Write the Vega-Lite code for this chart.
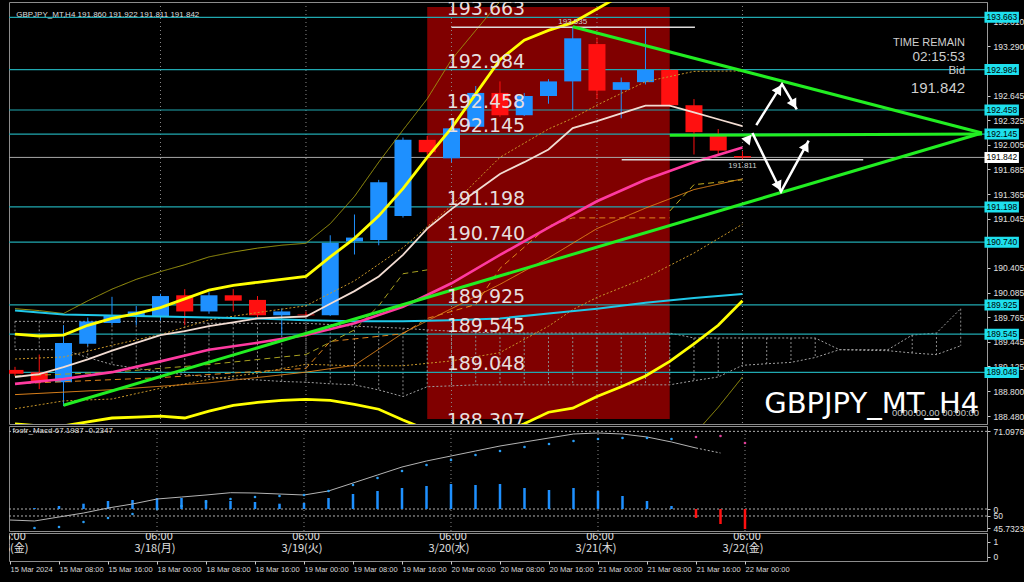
{
"$schema": "https://vega.github.io/schema/vega-lite/v6.json",
"background": "black",
"padding": {"left": 7, "top": 1, "right": 0, "bottom": 14},
"spacing": 2,
"bounds": "flush",
"config": {"view": {"stroke": "#8c8c8c", "strokeWidth": 1}, "font": "DejaVu Sans", "axis": {"labelFont": "Liberation Sans"}},
"datasets": {
"candles": [
{"i":0,"o":189.08,"h":189.12,"l":189.00,"c":189.03},
{"i":1,"o":189.05,"h":189.28,"l":188.83,"c":188.92},
{"i":2,"o":188.92,"h":189.66,"l":188.61,"c":189.43},
{"i":3,"o":189.42,"h":189.76,"l":189.39,"c":189.71},
{"i":4,"o":189.69,"h":190.03,"l":189.66,"c":189.79},
{"i":5,"o":189.78,"h":189.91,"l":189.66,"c":189.84},
{"i":6,"o":189.78,"h":190.07,"l":189.72,"c":190.04},
{"i":7,"o":190.05,"h":190.13,"l":189.66,"c":189.84},
{"i":8,"o":189.84,"h":190.09,"l":189.81,"c":190.05},
{"i":9,"o":190.05,"h":190.13,"l":189.84,"c":189.98},
{"i":10,"o":189.99,"h":190.04,"l":189.76,"c":189.79},
{"i":11,"o":189.79,"h":189.88,"l":189.53,"c":189.84},
{"i":12,"o":189.80,"h":189.84,"l":189.77,"c":189.79},
{"i":13,"o":189.79,"h":190.83,"l":189.78,"c":190.73},
{"i":14,"o":190.75,"h":191.10,"l":190.58,"c":190.80},
{"i":15,"o":190.77,"h":191.55,"l":190.70,"c":191.52},
{"i":16,"o":191.08,"h":192.10,"l":191.06,"c":192.07},
{"i":17,"o":192.07,"h":192.12,"l":191.88,"c":191.91},
{"i":18,"o":191.83,"h":192.35,"l":191.78,"c":192.22},
{"i":19,"o":192.24,"h":192.77,"l":192.22,"c":192.68},
{"i":20,"o":192.68,"h":192.83,"l":192.37,"c":192.39},
{"i":21,"o":192.39,"h":192.68,"l":192.38,"c":192.64},
{"i":22,"o":192.64,"h":192.86,"l":192.54,"c":192.83},
{"i":23,"o":192.83,"h":193.535,"l":192.45,"c":193.39},
{"i":24,"o":193.315,"h":193.40,"l":192.60,"c":192.71},
{"i":25,"o":192.72,"h":192.88,"l":192.35,"c":192.82},
{"i":26,"o":192.82,"h":193.52,"l":192.79,"c":192.98},
{"i":27,"o":192.98,"h":192.99,"l":192.50,"c":192.52},
{"i":28,"o":192.52,"h":192.60,"l":191.88,"c":192.17},
{"i":29,"o":192.12,"h":192.21,"l":191.88,"c":191.93},
{"i":30,"o":191.860,"h":191.922,"l":191.811,"c":191.842}
],
"grid": [{"i":6},{"i":12},{"i":18},{"i":24},{"i":30}],
"levels": [{"v":193.663},{"v":192.984},{"v":192.458},{"v":192.145},{"v":191.198},{"v":190.740},{"v":189.925},{"v":189.545},{"v":189.048},{"v":188.307}],
"cloud": [
{"i":0,"a":189.711,"b":189.343},{"i":1,"a":189.711,"b":189.343},{"i":2,"a":189.711,"b":189.343},{"i":3,"a":189.711,"b":189.241},
{"i":4,"a":189.711,"b":189.15},{"i":5,"a":189.711,"b":189.10},{"i":6,"a":189.711,"b":189.051},{"i":7,"a":189.70,"b":189.02},
{"i":8,"a":189.686,"b":188.99},{"i":9,"a":189.686,"b":188.962},{"i":10,"a":189.686,"b":188.95},{"i":11,"a":189.686,"b":188.93},
{"i":12,"a":189.686,"b":188.92},{"i":13,"a":189.67,"b":188.90},{"i":14,"a":189.648,"b":188.886},{"i":15,"a":189.635,"b":188.82},
{"i":16,"a":189.622,"b":188.734},{"i":17,"a":189.60,"b":188.861},{"i":18,"a":189.584,"b":188.873},{"i":19,"a":189.57,"b":188.886},
{"i":20,"a":189.559,"b":188.886},{"i":21,"a":189.559,"b":188.886},{"i":22,"a":189.559,"b":188.886},{"i":23,"a":189.559,"b":188.886},
{"i":24,"a":189.559,"b":188.886},{"i":25,"a":189.559,"b":188.886},{"i":26,"a":189.559,"b":188.886},{"i":27,"a":189.559,"b":188.886},
{"i":28,"a":189.495,"b":188.94},{"i":29,"a":189.495,"b":188.988},{"i":30,"a":189.495,"b":189.140},{"i":31,"a":189.495,"b":189.16},
{"i":32,"a":189.495,"b":189.178},{"i":33,"a":189.495,"b":189.241},{"i":34,"a":189.343,"b":189.343},{"i":35,"a":189.343,"b":189.335},
{"i":36,"a":189.343,"b":189.330},{"i":37,"a":189.533,"b":189.30},{"i":38,"a":189.559,"b":189.279},{"i":39,"a":189.876,"b":189.394}
],
"ind": [
{"s":"u3","i":0,"v":189.876},{"s":"u3","i":1,"v":189.851},{"s":"u3","i":2,"v":189.813},{"s":"u3","i":3,"v":189.978},{"s":"u3","i":4,"v":190.130},{"s":"u3","i":5,"v":190.257},{"s":"u3","i":6,"v":190.358},{"s":"u3","i":7,"v":190.447},{"s":"u3","i":8,"v":190.549},{"s":"u3","i":9,"v":190.612},{"s":"u3","i":10,"v":190.663},{"s":"u3","i":11,"v":190.701},{"s":"u3","i":12,"v":190.726},{"s":"u3","i":13,"v":190.98},{"s":"u3","i":14,"v":191.335},{"s":"u3","i":15,"v":191.78},{"s":"u3","i":16,"v":192.198},{"s":"u3","i":17,"v":192.604},{"s":"u3","i":18,"v":193.112},{"s":"u3","i":19,"v":193.493},{"s":"u3","i":20,"v":193.87},{"s":"u3","i":21,"v":194.1},
{"s":"l3","i":28,"v":188.239},{"s":"l3","i":29,"v":188.594},{"s":"l3","i":30,"v":188.988},
{"s":"u1","i":0,"v":189.222},{"s":"u1","i":2,"v":189.248},{"s":"u1","i":4,"v":189.400},{"s":"u1","i":6,"v":189.540},{"s":"u1","i":8,"v":189.730},{"s":"u1","i":10,"v":189.825},{"s":"u1","i":12,"v":189.914},{"s":"u1","i":14,"v":190.238},{"s":"u1","i":16,"v":190.669},{"s":"u1","i":18,"v":191.215},{"s":"u1","i":20,"v":191.843},{"s":"u1","i":22,"v":192.211},{"s":"u1","i":23,"v":192.351},{"s":"u1","i":24,"v":192.522},{"s":"u1","i":26,"v":192.826},{"s":"u1","i":28,"v":192.960},{"s":"u1","i":30,"v":192.966},
{"s":"l1","i":0,"v":188.575},{"s":"l1","i":2,"v":188.677},{"s":"l1","i":4,"v":188.702},{"s":"l1","i":6,"v":188.842},{"s":"l1","i":8,"v":188.956},{"s":"l1","i":10,"v":189.038},{"s":"l1","i":12,"v":189.153},{"s":"l1","i":14,"v":189.134},{"s":"l1","i":16,"v":189.134},{"s":"l1","i":18,"v":189.197},{"s":"l1","i":20,"v":189.305},{"s":"l1","i":22,"v":189.648},{"s":"l1","i":23,"v":189.863},{"s":"l1","i":24,"v":190.022},{"s":"l1","i":26,"v":190.276},{"s":"l1","i":28,"v":190.599},{"s":"l1","i":30,"v":190.974},
{"s":"os","i":0,"v":188.759},{"s":"os","i":4,"v":188.823},{"s":"os","i":8,"v":188.912},{"s":"os","i":12,"v":189.051},{"s":"os","i":14,"v":189.140},{"s":"os","i":16,"v":189.559},{"s":"os","i":18,"v":189.876},{"s":"os","i":20,"v":190.193},{"s":"os","i":22,"v":190.536},{"s":"os","i":24,"v":190.917},{"s":"os","i":26,"v":191.183},{"s":"os","i":28,"v":191.424},{"s":"os","i":30,"v":191.564},
{"s":"kj","i":0,"v":188.90},{"s":"kj","i":6,"v":188.98},{"s":"kj","i":12,"v":189.10},{"s":"kj","i":13,"v":189.45},{"s":"kj","i":16,"v":189.55},{"s":"kj","i":17,"v":189.75},{"s":"kj","i":19,"v":189.93},{"s":"kj","i":20,"v":190.40},{"s":"kj","i":22,"v":190.95},{"s":"kj","i":23,"v":191.056},{"s":"kj","i":27,"v":191.056},
{"s":"tk","i":0,"v":189.00},{"s":"tk","i":4,"v":189.05},{"s":"tk","i":8,"v":189.15},{"s":"tk","i":12,"v":189.28},{"s":"tk","i":14,"v":189.60},{"s":"tk","i":15,"v":189.914},{"s":"tk","i":16,"v":190.33},{"s":"tk","i":17,"v":190.38},
{"s":"tk2","i":27,"v":191.145},{"s":"tk2","i":28,"v":191.488},{"s":"tk2","i":30,"v":191.551},
{"s":"cy","i":0,"v":189.851},{"s":"cy","i":2,"v":189.800},{"s":"cy","i":4,"v":189.787},{"s":"cy","i":6,"v":189.774},{"s":"cy","i":8,"v":189.762},{"s":"cy","i":10,"v":189.749},{"s":"cy","i":12,"v":189.724},{"s":"cy","i":14,"v":189.711},{"s":"cy","i":16,"v":189.711},{"s":"cy","i":18,"v":189.724},{"s":"cy","i":20,"v":189.749},{"s":"cy","i":22,"v":189.813},{"s":"cy","i":24,"v":189.876},{"s":"cy","i":26,"v":189.952},{"s":"cy","i":28,"v":190.016},{"s":"cy","i":30,"v":190.066},
{"s":"m","i":0,"v":188.899},{"s":"m","i":2,"v":188.962},{"s":"m","i":4,"v":189.051},{"s":"m","i":6,"v":189.191},{"s":"m","i":8,"v":189.343},{"s":"m","i":10,"v":189.432},{"s":"m","i":12,"v":189.533},{"s":"m","i":14,"v":189.686},{"s":"m","i":16,"v":189.901},{"s":"m","i":18,"v":190.206},{"s":"m","i":20,"v":190.574},{"s":"m","i":22,"v":190.929},{"s":"m","i":24,"v":191.272},{"s":"m","i":26,"v":191.551},{"s":"m","i":28,"v":191.780},{"s":"m","i":30,"v":191.970},
{"s":"w","i":0,"v":188.988},{"s":"w","i":1,"v":189.026},{"s":"w","i":2,"v":189.115},{"s":"w","i":3,"v":189.216},{"s":"w","i":4,"v":189.330},{"s":"w","i":5,"v":189.432},{"s":"w","i":6,"v":189.533},{"s":"w","i":7,"v":189.584},{"s":"w","i":8,"v":189.648},{"s":"w","i":9,"v":189.698},{"s":"w","i":10,"v":189.749},{"s":"w","i":11,"v":189.762},{"s":"w","i":12,"v":189.774},{"s":"w","i":13,"v":189.939},{"s":"w","i":14,"v":190.104},{"s":"w","i":15,"v":190.295},{"s":"w","i":16,"v":190.574},{"s":"w","i":17,"v":190.917},{"s":"w","i":18,"v":191.170},{"s":"w","i":19,"v":191.399},{"s":"w","i":20,"v":191.627},{"s":"w","i":21,"v":191.780},{"s":"w","i":22,"v":191.945},{"s":"w","i":23,"v":192.224},{"s":"w","i":24,"v":192.313},{"s":"w","i":25,"v":192.414},{"s":"w","i":26,"v":192.516},{"s":"w","i":27,"v":192.516},{"s":"w","i":28,"v":192.427},{"s":"w","i":29,"v":192.338},{"s":"w","i":30,"v":192.249},
{"s":"u2","i":0,"v":189.546},{"s":"u2","i":1,"v":189.521},{"s":"u2","i":2,"v":189.533},{"s":"u2","i":3,"v":189.660},{"s":"u2","i":4,"v":189.749},{"s":"u2","i":5,"v":189.813},{"s":"u2","i":6,"v":189.889},{"s":"u2","i":7,"v":190.003},{"s":"u2","i":8,"v":190.117},{"s":"u2","i":9,"v":190.180},{"s":"u2","i":10,"v":190.219},{"s":"u2","i":11,"v":190.257},{"s":"u2","i":12,"v":190.295},{"s":"u2","i":13,"v":190.549},{"s":"u2","i":14,"v":190.790},{"s":"u2","i":15,"v":191.082},{"s":"u2","i":16,"v":191.437},{"s":"u2","i":17,"v":191.843},{"s":"u2","i":18,"v":192.224},{"s":"u2","i":19,"v":192.668},{"s":"u2","i":20,"v":193.112},{"s":"u2","i":21,"v":193.366},{"s":"u2","i":22,"v":193.493},{"s":"u2","i":23,"v":193.594},{"s":"u2","i":24,"v":193.772},{"s":"u2","i":25,"v":193.95},{"s":"u2","i":26,"v":194.1},
{"s":"l2","i":0,"v":188.378},{"s":"l2","i":1,"v":188.353},{"s":"l2","i":2,"v":188.353},{"s":"l2","i":3,"v":188.404},{"s":"l2","i":4,"v":188.455},{"s":"l2","i":5,"v":188.467},{"s":"l2","i":6,"v":188.480},{"s":"l2","i":7,"v":188.455},{"s":"l2","i":8,"v":188.543},{"s":"l2","i":9,"v":188.620},{"s":"l2","i":10,"v":188.658},{"s":"l2","i":11,"v":188.683},{"s":"l2","i":12,"v":188.696},{"s":"l2","i":13,"v":188.683},{"s":"l2","i":14,"v":188.632},{"s":"l2","i":15,"v":188.569},{"s":"l2","i":16,"v":188.429},{"s":"l2","i":17,"v":188.30},{"s":"l2","i":18,"v":188.24},{"s":"l2","i":19,"v":188.22},{"s":"l2","i":20,"v":188.25},{"s":"l2","i":21,"v":188.38},{"s":"l2","i":22,"v":188.53},{"s":"l2","i":23,"v":188.582},{"s":"l2","i":24,"v":188.734},{"s":"l2","i":25,"v":188.861},{"s":"l2","i":26,"v":189.000},{"s":"l2","i":27,"v":189.191},{"s":"l2","i":28,"v":189.419},{"s":"l2","i":29,"v":189.660},{"s":"l2","i":30,"v":189.978}
],
"hl": [{"i":23,"v":193.535,"x1":18,"x2":28.04},{"i":30,"v":191.811,"x1":25.02,"x2":34.98}],
"trend": [{"seg":"a","i":2,"v":188.62},{"seg":"a","i":39.878,"v":192.16},{"seg":"b","i":23,"v":193.54},{"seg":"b","i":39.878,"v":192.16},{"seg":"c","i":27,"v":192.13},{"seg":"c","i":39.878,"v":192.145}],
"arrows": [{"a":"A","k":0,"i":30.57,"v":192.262},{"a":"A","k":1,"i":31.63,"v":192.795},{"a":"A","k":2,"i":32.24,"v":192.465},{"a":"B","k":0,"i":30.41,"v":192.16},{"a":"B","k":1,"i":31.59,"v":191.399},{"a":"B","k":2,"i":32.73,"v":192.059}],
"heads": [{"i":31.50,"v":192.730,"dir":32},{"i":32.12,"v":192.531,"dir":150},{"i":31.49,"v":191.467,"dir":154},{"i":32.62,"v":191.991,"dir":28},{"i":30.25,"v":192.089,"dir":40}],
"hist": [{"i":1,"v":51.02},{"i":2,"v":51.55},{"i":3,"v":52.15},{"i":4,"v":52.86},{"i":5,"v":53.12},{"i":6,"v":53.64},{"i":7,"v":53.64},{"i":8,"v":53.12},{"i":9,"v":52.86},{"i":10,"v":52.59},{"i":11,"v":52.15},{"i":12,"v":52.33},{"i":13,"v":53.64},{"i":14,"v":54.69},{"i":15,"v":55.48},{"i":16,"v":56.26},{"i":17,"v":56.79},{"i":18,"v":57.31},{"i":19,"v":57.05},{"i":20,"v":57.31},{"i":21,"v":56.26},{"i":22,"v":55.74},{"i":23,"v":56.26},{"i":24,"v":55.48},{"i":25,"v":54.17},{"i":26,"v":52.86},{"i":27,"v":51.55},{"i":28,"v":48.40},{"i":29,"v":46.83},{"i":30,"v":45.52}],
"sig": [{"i":0,"v":47.88},{"i":1,"v":47.62},{"i":2,"v":48.67},{"i":3,"v":49.71},{"i":4,"v":51.02},{"i":5,"v":52.07},{"i":6,"v":53.38},{"i":7,"v":53.90},{"i":8,"v":54.43},{"i":9,"v":55.03},{"i":10,"v":54.95},{"i":11,"v":54.69},{"i":12,"v":54.43},{"i":13,"v":55.48},{"i":14,"v":57.57},{"i":15,"v":59.67},{"i":16,"v":61.76},{"i":17,"v":63.33},{"i":18,"v":64.64},{"i":19,"v":65.95},{"i":20,"v":67.26},{"i":21,"v":68.31},{"i":22,"v":69.36},{"i":23,"v":70.40},{"i":24,"v":70.67},{"i":25,"v":70.40},{"i":26,"v":69.62},{"i":27,"v":68.31},{"i":28,"v":66.74}],
"sig2": [{"i":28,"v":66.74},{"i":29,"v":65.43}],
"dots": [{"i":1,"v":45.78,"k":"b"},{"i":2,"v":46.05,"k":"b"},{"i":3,"v":47.36,"k":"b"},{"i":4,"v":48.40,"k":"b"},{"i":5,"v":49.45,"k":"b"},{"i":6,"v":50.76,"k":"b"},{"i":7,"v":51.55,"k":"b"},{"i":8,"v":52.59,"k":"b"},{"i":9,"v":53.38,"k":"b"},{"i":10,"v":53.90,"k":"b"},{"i":11,"v":54.17,"k":"b"},{"i":12,"v":54.43,"k":"b"},{"i":13,"v":55.48,"k":"b"},{"i":14,"v":57.05,"k":"b"},{"i":15,"v":58.88,"k":"b"},{"i":16,"v":60.71,"k":"b"},{"i":17,"v":62.29,"k":"b"},{"i":18,"v":63.60,"k":"b"},{"i":19,"v":64.90,"k":"b"},{"i":20,"v":65.95,"k":"b"},{"i":21,"v":67.00,"k":"b"},{"i":22,"v":67.79,"k":"b"},{"i":23,"v":68.57,"k":"b"},{"i":24,"v":69.10,"k":"b"},{"i":25,"v":69.36,"k":"b"},{"i":26,"v":69.36,"k":"b"},{"i":27,"v":69.10,"k":"b"},{"i":28,"v":69.62,"k":"p"},{"i":29,"v":69.88,"k":"p"},{"i":30,"v":68.05,"k":"p"}],
"mh": [{"v":71.0976},{"v":50.76},{"v":48.93}],
"jst": [{"i":0,"t":"06:00","d":"3/15(金)"},{"i":6,"t":"06:00","d":"3/18(月)"},{"i":12,"t":"06:00","d":"3/19(火)"},{"i":18,"t":"06:00","d":"3/20(水)"},{"i":24,"t":"06:00","d":"3/21(木)"},{"i":30,"t":"06:00","d":"3/22(金)"}]
},
"vconcat": [
{
"width": 978, "height": 422,
"resolve": {"axis": {"x": "independent", "y": "independent"}},
"layer": [
{"data": {"values": [{}]}, "mark": {"type": "rect", "color": "#800000"},
 "encoding": {"x": {"datum": 17, "type": "quantitative", "scale": {"domain": [-0.041, 39.878], "nice": false, "zero": false}, "axis": null}, "x2": {"datum": 27},
  "y": {"datum": 188.442, "type": "quantitative", "scale": {"domain": [188.442, 193.797], "nice": false, "zero": false}, "axis": null}, "y2": {"datum": 193.797}}},
{"data": {"name": "grid"}, "mark": {"type": "rule", "color": "#8a8a8a", "strokeDash": [1, 3]},
 "encoding": {"x": {"field": "i", "type": "quantitative", "scale": {"domain": [-0.041, 39.878], "nice": false, "zero": false}, "axis": null}}},
{"data": {"name": "cloud"}, "mark": {"type": "rule", "color": "#8a8a8a", "strokeDash": [2, 2], "clip": true},
 "encoding": {"x": {"field": "i", "type": "quantitative", "scale": {"domain": [-0.041, 39.878], "nice": false, "zero": false}, "axis": null},
  "y": {"field": "a", "type": "quantitative", "scale": {"domain": [188.442, 193.797], "nice": false, "zero": false}, "axis": null}, "y2": {"field": "b"}}},
{"data": {"name": "cloud"}, "mark": {"type": "line", "color": "#a0a0a0", "strokeDash": [2, 2], "strokeWidth": 1, "clip": true},
 "encoding": {"x": {"field": "i", "type": "quantitative", "scale": {"domain": [-0.041, 39.878], "nice": false, "zero": false}, "axis": null},
  "y": {"field": "a", "type": "quantitative", "scale": {"domain": [188.442, 193.797], "nice": false, "zero": false}, "axis": null}}},
{"data": {"name": "cloud"}, "mark": {"type": "line", "color": "#a0a0a0", "strokeDash": [2, 2], "strokeWidth": 1, "clip": true},
 "encoding": {"x": {"field": "i", "type": "quantitative", "scale": {"domain": [-0.041, 39.878], "nice": false, "zero": false}, "axis": null},
  "y": {"field": "b", "type": "quantitative", "scale": {"domain": [188.442, 193.797], "nice": false, "zero": false}, "axis": null}}},
{"data": {"name": "levels"}, "mark": {"type": "rule", "color": "#20a8b0", "strokeWidth": 1.2, "clip": true},
 "encoding": {"y": {"field": "v", "type": "quantitative", "scale": {"domain": [188.442, 193.797], "nice": false, "zero": false},
  "axis": {"orient": "right", "title": null, "grid": false, "values": [193.610, 193.290, 192.645, 192.325, 192.005, 191.685, 191.365, 191.045, 190.405, 190.085, 189.765, 189.445, 189.125, 188.800, 188.480], "format": ".3f", "domainColor": "#9a9a9a", "tickColor": "#cccccc", "tickSize": 3, "labelColor": "#e0e0e0", "labelFontSize": 8.5, "labelPadding": 3, "labelOverlap": false}}}},
{"data": {"values": [{}]}, "mark": {"type": "rule", "color": "#a8a8a8", "strokeWidth": 1},
 "encoding": {"y": {"datum": 191.842, "type": "quantitative", "scale": {"domain": [188.442, 193.797], "nice": false, "zero": false}, "axis": null}}},
{"data": {"name": "candles"}, "mark": {"type": "rule", "strokeWidth": 1, "clip": true},
 "encoding": {"x": {"field": "i", "type": "quantitative", "scale": {"domain": [-0.041, 39.878], "nice": false, "zero": false}, "axis": null},
  "y": {"field": "h", "type": "quantitative", "scale": {"domain": [188.442, 193.797], "nice": false, "zero": false}, "axis": null}, "y2": {"field": "l"},
  "color": {"condition": {"test": "datum.c >= datum.o", "value": "#1e90ff"}, "value": "#ff1010"}}},
{"data": {"name": "candles"}, "mark": {"type": "bar", "size": 17, "clip": true},
 "encoding": {"x": {"field": "i", "type": "quantitative", "scale": {"domain": [-0.041, 39.878], "nice": false, "zero": false}, "axis": null},
  "y": {"field": "o", "type": "quantitative", "scale": {"domain": [188.442, 193.797], "nice": false, "zero": false}, "axis": null}, "y2": {"field": "c"},
  "color": {"condition": {"test": "datum.c >= datum.o", "value": "#1e90ff"}, "value": "#ff1010"}}},
{"data": {"name": "ind"}, "transform": [{"filter": "indexof(['u3','l3','u1','l1','os','kj','tk','tk2'], datum.s) >= 0"}], "mark": {"type": "line", "strokeWidth": 1, "clip": true},
 "encoding": {"x": {"field": "i", "type": "quantitative", "scale": {"domain": [-0.041, 39.878], "nice": false, "zero": false}, "axis": null},
  "y": {"field": "v", "type": "quantitative", "scale": {"domain": [188.442, 193.797], "nice": false, "zero": false}, "axis": null},
  "color": {"field": "s", "type": "nominal", "legend": null, "scale": {"domain": ["u3","l3","u1","l1","os","kj","tk","tk2"], "range": ["#a09a10","#a09a10","#c8962a","#c8962a","#e0841c","#e0841c","#a8a020","#c8b020"]}},
  "strokeDash": {"field": "s", "type": "nominal", "legend": null, "scale": {"domain": ["u3","l3","u1","l1","os","kj","tk","tk2"], "range": [[1,0],[1,0],[2,2],[2,2],[1,0],[6,4],[6,4],[6,4]]}}}},
{"data": {"name": "ind"}, "transform": [{"filter": "datum.s == 'cy'"}], "mark": {"type": "line", "strokeWidth": 2, "color": "#20c8e8", "clip": true},
 "encoding": {"x": {"field": "i", "type": "quantitative", "scale": {"domain": [-0.041, 39.878], "nice": false, "zero": false}, "axis": null},
  "y": {"field": "v", "type": "quantitative", "scale": {"domain": [188.442, 193.797], "nice": false, "zero": false}, "axis": null}}},
{"data": {"name": "ind"}, "transform": [{"filter": "datum.s == 'm'"}], "mark": {"type": "line", "strokeWidth": 2.6, "color": "#ff3aa0", "clip": true},
 "encoding": {"x": {"field": "i", "type": "quantitative", "scale": {"domain": [-0.041, 39.878], "nice": false, "zero": false}, "axis": null},
  "y": {"field": "v", "type": "quantitative", "scale": {"domain": [188.442, 193.797], "nice": false, "zero": false}, "axis": null}}},
{"data": {"name": "ind"}, "transform": [{"filter": "datum.s == 'w'"}], "mark": {"type": "line", "strokeWidth": 1.8, "color": "#f2dcd2", "clip": true},
 "encoding": {"x": {"field": "i", "type": "quantitative", "scale": {"domain": [-0.041, 39.878], "nice": false, "zero": false}, "axis": null},
  "y": {"field": "v", "type": "quantitative", "scale": {"domain": [188.442, 193.797], "nice": false, "zero": false}, "axis": null}}},
{"data": {"name": "ind"}, "transform": [{"filter": "datum.s == 'u2' || datum.s == 'l2'"}], "mark": {"type": "line", "strokeWidth": 2.8, "color": "#ffff00", "clip": true},
 "encoding": {"x": {"field": "i", "type": "quantitative", "scale": {"domain": [-0.041, 39.878], "nice": false, "zero": false}, "axis": null},
  "y": {"field": "v", "type": "quantitative", "scale": {"domain": [188.442, 193.797], "nice": false, "zero": false}, "axis": null}, "detail": {"field": "s"}}},
{"data": {"name": "hl"}, "mark": {"type": "rule", "color": "#dcdcdc", "strokeWidth": 1.5, "clip": true},
 "encoding": {"x": {"field": "x1", "type": "quantitative", "scale": {"domain": [-0.041, 39.878], "nice": false, "zero": false}, "axis": null}, "x2": {"field": "x2"},
  "y": {"field": "v", "type": "quantitative", "scale": {"domain": [188.442, 193.797], "nice": false, "zero": false}, "axis": null}}},
{"data": {"name": "hl"}, "transform": [{"filter": "datum.v > 193"}], "mark": {"type": "text", "color": "#cfcfcf", "fontSize": 8, "font": "Liberation Sans", "baseline": "bottom", "dy": -1, "clip": true},
 "encoding": {"x": {"field": "i", "type": "quantitative", "scale": {"domain": [-0.041, 39.878], "nice": false, "zero": false}, "axis": null},
  "y": {"field": "v", "type": "quantitative", "scale": {"domain": [188.442, 193.797], "nice": false, "zero": false}, "axis": null}, "text": {"field": "v", "type": "quantitative", "format": ".3f"}}},
{"data": {"name": "hl"}, "transform": [{"filter": "datum.v < 193"}], "mark": {"type": "text", "color": "#cfcfcf", "fontSize": 8, "font": "Liberation Sans", "baseline": "top", "dy": 2, "clip": true},
 "encoding": {"x": {"field": "i", "type": "quantitative", "scale": {"domain": [-0.041, 39.878], "nice": false, "zero": false}, "axis": null},
  "y": {"field": "v", "type": "quantitative", "scale": {"domain": [188.442, 193.797], "nice": false, "zero": false}, "axis": null}, "text": {"field": "v", "type": "quantitative", "format": ".3f"}}},
{"data": {"name": "trend"}, "mark": {"type": "line", "color": "#22ee22", "strokeWidth": 3, "clip": true},
 "encoding": {"x": {"field": "i", "type": "quantitative", "scale": {"domain": [-0.041, 39.878], "nice": false, "zero": false}, "axis": null},
  "y": {"field": "v", "type": "quantitative", "scale": {"domain": [188.442, 193.797], "nice": false, "zero": false}, "axis": null}, "detail": {"field": "seg"}}},
{"data": {"name": "arrows"}, "mark": {"type": "line", "color": "#ffffff", "strokeWidth": 2.5, "clip": true},
 "encoding": {"x": {"field": "i", "type": "quantitative", "scale": {"domain": [-0.041, 39.878], "nice": false, "zero": false}, "axis": null},
  "y": {"field": "v", "type": "quantitative", "scale": {"domain": [188.442, 193.797], "nice": false, "zero": false}, "axis": null}, "detail": {"field": "a"}, "order": {"field": "k"}}},
{"data": {"name": "heads"}, "mark": {"type": "point", "shape": "triangle-up", "filled": true, "color": "#ffffff", "opacity": 1, "size": 120, "clip": true},
 "encoding": {"x": {"field": "i", "type": "quantitative", "scale": {"domain": [-0.041, 39.878], "nice": false, "zero": false}, "axis": null},
  "y": {"field": "v", "type": "quantitative", "scale": {"domain": [188.442, 193.797], "nice": false, "zero": false}, "axis": null}, "angle": {"field": "dir", "type": "quantitative", "scale": null}}},
{"data": {"name": "levels"}, "mark": {"type": "text", "align": "left", "baseline": "alphabetic", "dy": -2, "fontSize": 19, "font": "DejaVu Sans", "color": "#e6dede", "clip": true},
 "encoding": {"x": {"datum": 17.8, "type": "quantitative", "scale": {"domain": [-0.041, 39.878], "nice": false, "zero": false}, "axis": null},
  "y": {"field": "v", "type": "quantitative", "scale": {"domain": [188.442, 193.797], "nice": false, "zero": false}, "axis": null}, "text": {"field": "v", "type": "quantitative", "format": ".3f"}}},
{"data": {"values": [{}]}, "mark": {"type": "text", "text": "GBPJPY_MT,H4  191.860 191.922 191.811 191.842", "align": "left", "baseline": "middle", "fontSize": 8, "font": "Liberation Sans", "color": "#dddddd"},
 "encoding": {"x": {"datum": 0.05, "type": "quantitative", "scale": {"domain": [-0.041, 39.878], "nice": false, "zero": false}, "axis": null},
  "y": {"datum": 193.696, "type": "quantitative", "scale": {"domain": [188.442, 193.797], "nice": false, "zero": false}, "axis": null}}},
{"data": {"values": [{}]}, "mark": {"type": "text", "text": "TIME REMAIN", "align": "right", "baseline": "alphabetic", "fontSize": 11, "font": "Liberation Sans", "color": "#cfcfcf"},
 "encoding": {"x": {"datum": 39.18, "type": "quantitative", "scale": {"domain": [-0.041, 39.878], "nice": false, "zero": false}, "axis": null},
  "y": {"datum": 193.293, "type": "quantitative", "scale": {"domain": [188.442, 193.797], "nice": false, "zero": false}, "axis": null}}},
{"data": {"values": [{}]}, "mark": {"type": "text", "text": "02:15:53", "align": "right", "baseline": "alphabetic", "fontSize": 13.5, "font": "Liberation Sans", "color": "#cfcfcf"},
 "encoding": {"x": {"datum": 39.18, "type": "quantitative", "scale": {"domain": [-0.041, 39.878], "nice": false, "zero": false}, "axis": null},
  "y": {"datum": 193.09, "type": "quantitative", "scale": {"domain": [188.442, 193.797], "nice": false, "zero": false}, "axis": null}}},
{"data": {"values": [{}]}, "mark": {"type": "text", "text": "Bid", "align": "right", "baseline": "alphabetic", "fontSize": 11.5, "font": "Liberation Sans", "color": "#cfcfcf"},
 "encoding": {"x": {"datum": 39.18, "type": "quantitative", "scale": {"domain": [-0.041, 39.878], "nice": false, "zero": false}, "axis": null},
  "y": {"datum": 192.925, "type": "quantitative", "scale": {"domain": [188.442, 193.797], "nice": false, "zero": false}, "axis": null}}},
{"data": {"values": [{}]}, "mark": {"type": "text", "text": "191.842", "align": "right", "baseline": "alphabetic", "fontSize": 15, "font": "Liberation Sans", "color": "#cfcfcf"},
 "encoding": {"x": {"datum": 39.18, "type": "quantitative", "scale": {"domain": [-0.041, 39.878], "nice": false, "zero": false}, "axis": null},
  "y": {"datum": 192.677, "type": "quantitative", "scale": {"domain": [188.442, 193.797], "nice": false, "zero": false}, "axis": null}}},
{"data": {"values": [{}]}, "mark": {"type": "text", "text": "GBPJPY_MT_H4", "align": "right", "baseline": "alphabetic", "fontSize": 29, "font": "DejaVu Sans", "color": "#ffffff"},
 "encoding": {"x": {"datum": 39.76, "type": "quantitative", "scale": {"domain": [-0.041, 39.878], "nice": false, "zero": false}, "axis": null},
  "y": {"datum": 188.518, "type": "quantitative", "scale": {"domain": [188.442, 193.797], "nice": false, "zero": false}, "axis": null}}},
{"data": {"values": [{}]}, "mark": {"type": "text", "text": "0000.00.00 00:00:00", "align": "right", "baseline": "alphabetic", "fontSize": 9.5, "font": "Liberation Sans", "color": "#c8c8c8"},
 "encoding": {"x": {"datum": 39.76, "type": "quantitative", "scale": {"domain": [-0.041, 39.878], "nice": false, "zero": false}, "axis": null},
  "y": {"datum": 188.48, "type": "quantitative", "scale": {"domain": [188.442, 193.797], "nice": false, "zero": false}, "axis": null}}},
{"data": {"name": "levels"}, "transform": [{"filter": "datum.v > 188.5"}], "mark": {"type": "bar", "orient": "horizontal", "color": "#1ee0ee", "size": 11, "clip": false},
 "encoding": {"x": {"datum": 39.98, "type": "quantitative", "scale": {"domain": [-0.041, 39.878], "nice": false, "zero": false}, "axis": null}, "x2": {"datum": 41.4},
  "y": {"field": "v", "type": "quantitative", "scale": {"domain": [188.442, 193.797], "nice": false, "zero": false}, "axis": null}}},
{"data": {"name": "levels"}, "transform": [{"filter": "datum.v > 188.5"}], "mark": {"type": "text", "align": "left", "baseline": "middle", "dx": 2, "fontSize": 8.5, "font": "Liberation Sans", "color": "#000000", "clip": false},
 "encoding": {"x": {"datum": 39.98, "type": "quantitative", "scale": {"domain": [-0.041, 39.878], "nice": false, "zero": false}, "axis": null},
  "y": {"field": "v", "type": "quantitative", "scale": {"domain": [188.442, 193.797], "nice": false, "zero": false}, "axis": null}, "text": {"field": "v", "type": "quantitative", "format": ".3f"}}},
{"data": {"values": [{}]}, "mark": {"type": "bar", "orient": "horizontal", "color": "#ffffff", "size": 11, "clip": false},
 "encoding": {"x": {"datum": 39.98, "type": "quantitative", "scale": {"domain": [-0.041, 39.878], "nice": false, "zero": false}, "axis": null}, "x2": {"datum": 41.4},
  "y": {"datum": 191.842, "type": "quantitative", "scale": {"domain": [188.442, 193.797], "nice": false, "zero": false}, "axis": null}}},
{"data": {"values": [{}]}, "mark": {"type": "text", "text": "191.842", "align": "left", "baseline": "middle", "dx": 2, "fontSize": 8.5, "font": "Liberation Sans", "color": "#000000", "clip": false},
 "encoding": {"x": {"datum": 39.98, "type": "quantitative", "scale": {"domain": [-0.041, 39.878], "nice": false, "zero": false}, "axis": null},
  "y": {"datum": 191.842, "type": "quantitative", "scale": {"domain": [188.442, 193.797], "nice": false, "zero": false}, "axis": null}}}
]
},
{
"width": 978, "height": 105,
"resolve": {"axis": {"x": "independent", "y": "independent"}},
"layer": [
{"data": {"name": "grid"}, "mark": {"type": "rule", "color": "#8a8a8a", "strokeDash": [1, 3]},
 "encoding": {"x": {"field": "i", "type": "quantitative", "scale": {"domain": [-0.041, 39.878], "nice": false, "zero": false}, "axis": null}}},
{"data": {"name": "mh"}, "mark": {"type": "rule", "color": "#b0b0b0", "strokeDash": [2, 2]},
 "encoding": {"y": {"field": "v", "type": "quantitative", "scale": {"domain": [45.0, 72.5], "nice": false, "zero": false},
  "axis": {"orient": "right", "title": null, "grid": false, "values": [71.0976, 50.76, 48.93, 45.7323], "labelExpr": "datum.value > 71 ? '71.0976' : datum.value > 50 ? '0' : datum.value > 47 ? '50' : '45.7323'", "domainColor": "#9a9a9a", "tickColor": "#cccccc", "tickSize": 3, "labelColor": "#e0e0e0", "labelFontSize": 8.5, "labelPadding": 3, "labelOverlap": false}}}},
{"data": {"name": "hist"}, "mark": {"type": "rule", "strokeWidth": 2.5},
 "encoding": {"x": {"field": "i", "type": "quantitative", "scale": {"domain": [-0.041, 39.878], "nice": false, "zero": false}, "axis": null},
  "y": {"field": "v", "type": "quantitative", "scale": {"domain": [45.0, 72.5], "nice": false, "zero": false}, "axis": null}, "y2": {"datum": 50.76},
  "color": {"condition": {"test": "datum.v >= 50.76", "value": "#1e90ff"}, "value": "#ff1010"}}},
{"data": {"name": "sig"}, "mark": {"type": "line", "color": "#b4b4b4", "strokeWidth": 1},
 "encoding": {"x": {"field": "i", "type": "quantitative", "scale": {"domain": [-0.041, 39.878], "nice": false, "zero": false}, "axis": null},
  "y": {"field": "v", "type": "quantitative", "scale": {"domain": [45.0, 72.5], "nice": false, "zero": false}, "axis": null}}},
{"data": {"name": "sig2"}, "mark": {"type": "line", "color": "#b4b4b4", "strokeWidth": 1, "strokeDash": [2, 2]},
 "encoding": {"x": {"field": "i", "type": "quantitative", "scale": {"domain": [-0.041, 39.878], "nice": false, "zero": false}, "axis": null},
  "y": {"field": "v", "type": "quantitative", "scale": {"domain": [45.0, 72.5], "nice": false, "zero": false}, "axis": null}}},
{"data": {"name": "dots"}, "mark": {"type": "circle", "size": 7, "opacity": 1},
 "encoding": {"x": {"field": "i", "type": "quantitative", "scale": {"domain": [-0.041, 39.878], "nice": false, "zero": false}, "axis": null},
  "y": {"field": "v", "type": "quantitative", "scale": {"domain": [45.0, 72.5], "nice": false, "zero": false}, "axis": null},
  "color": {"condition": {"test": "datum.k == 'p'", "value": "#e0409a"}, "value": "#2a9df4"}}},
{"data": {"values": [{}]}, "mark": {"type": "text", "text": "footr_Macd 67.1987 -0.2347", "align": "left", "baseline": "middle", "fontSize": 8, "font": "Liberation Sans", "color": "#dddddd"},
 "encoding": {"x": {"datum": 0.1, "type": "quantitative", "scale": {"domain": [-0.041, 39.878], "nice": false, "zero": false}, "axis": null},
  "y": {"datum": 71.0976, "type": "quantitative", "scale": {"domain": [45.0, 72.5], "nice": false, "zero": false}, "axis": null}}}
]
},
{
"width": 978, "height": 28,
"resolve": {"axis": {"x": "independent", "y": "independent"}},
"layer": [
{"data": {"name": "jst"}, "mark": {"type": "text", "align": "center", "baseline": "middle", "dx": 2, "fontSize": 11, "font": "Noto Sans CJK JP", "color": "#e0e0e0", "clip": true},
 "encoding": {"x": {"field": "i", "type": "quantitative", "scale": {"domain": [-0.041, 39.878], "nice": false, "zero": false},
  "axis": {"orient": "bottom", "title": null, "grid": false, "domain": false, "values": [0,2,4,6,8,10,12,14,16,18,20,22,24,26,28,30], "labelExpr": "['15 Mar 2024','15 Mar 08:00','15 Mar 16:00','18 Mar 00:00','18 Mar 08:00','18 Mar 16:00','19 Mar 00:00','19 Mar 08:00','19 Mar 16:00','20 Mar 00:00','20 Mar 08:00','20 Mar 16:00','21 Mar 00:00','21 Mar 08:00','21 Mar 16:00','22 Mar 00:00'][round(datum.value/2)]", "labelAlign": "left", "labelFontSize": 7.5, "labelColor": "#d8d8d8", "tickSize": 3, "tickColor": "#cccccc", "labelPadding": 1, "labelOverlap": false, "labelFlush": false}},
  "y": {"datum": 1.3, "type": "quantitative", "scale": {"domain": [-0.267, 1.6], "nice": false, "zero": false},
   "axis": {"orient": "right", "title": null, "grid": false, "values": [0, 1], "format": "d", "domainColor": "#9a9a9a", "tickColor": "#cccccc", "tickSize": 3, "labelColor": "#e0e0e0", "labelFontSize": 8.5, "labelPadding": 3}},
  "text": {"field": "t"}}},
{"data": {"name": "jst"}, "mark": {"type": "text", "align": "center", "baseline": "middle", "dx": -2, "fontSize": 11, "font": "Noto Sans CJK JP", "color": "#e0e0e0", "clip": true},
 "encoding": {"x": {"field": "i", "type": "quantitative", "scale": {"domain": [-0.041, 39.878], "nice": false, "zero": false}, "axis": null},
  "y": {"datum": 0.5, "type": "quantitative", "scale": {"domain": [-0.267, 1.6], "nice": false, "zero": false}, "axis": null},
  "text": {"field": "d"}}}
]
}
]
}
